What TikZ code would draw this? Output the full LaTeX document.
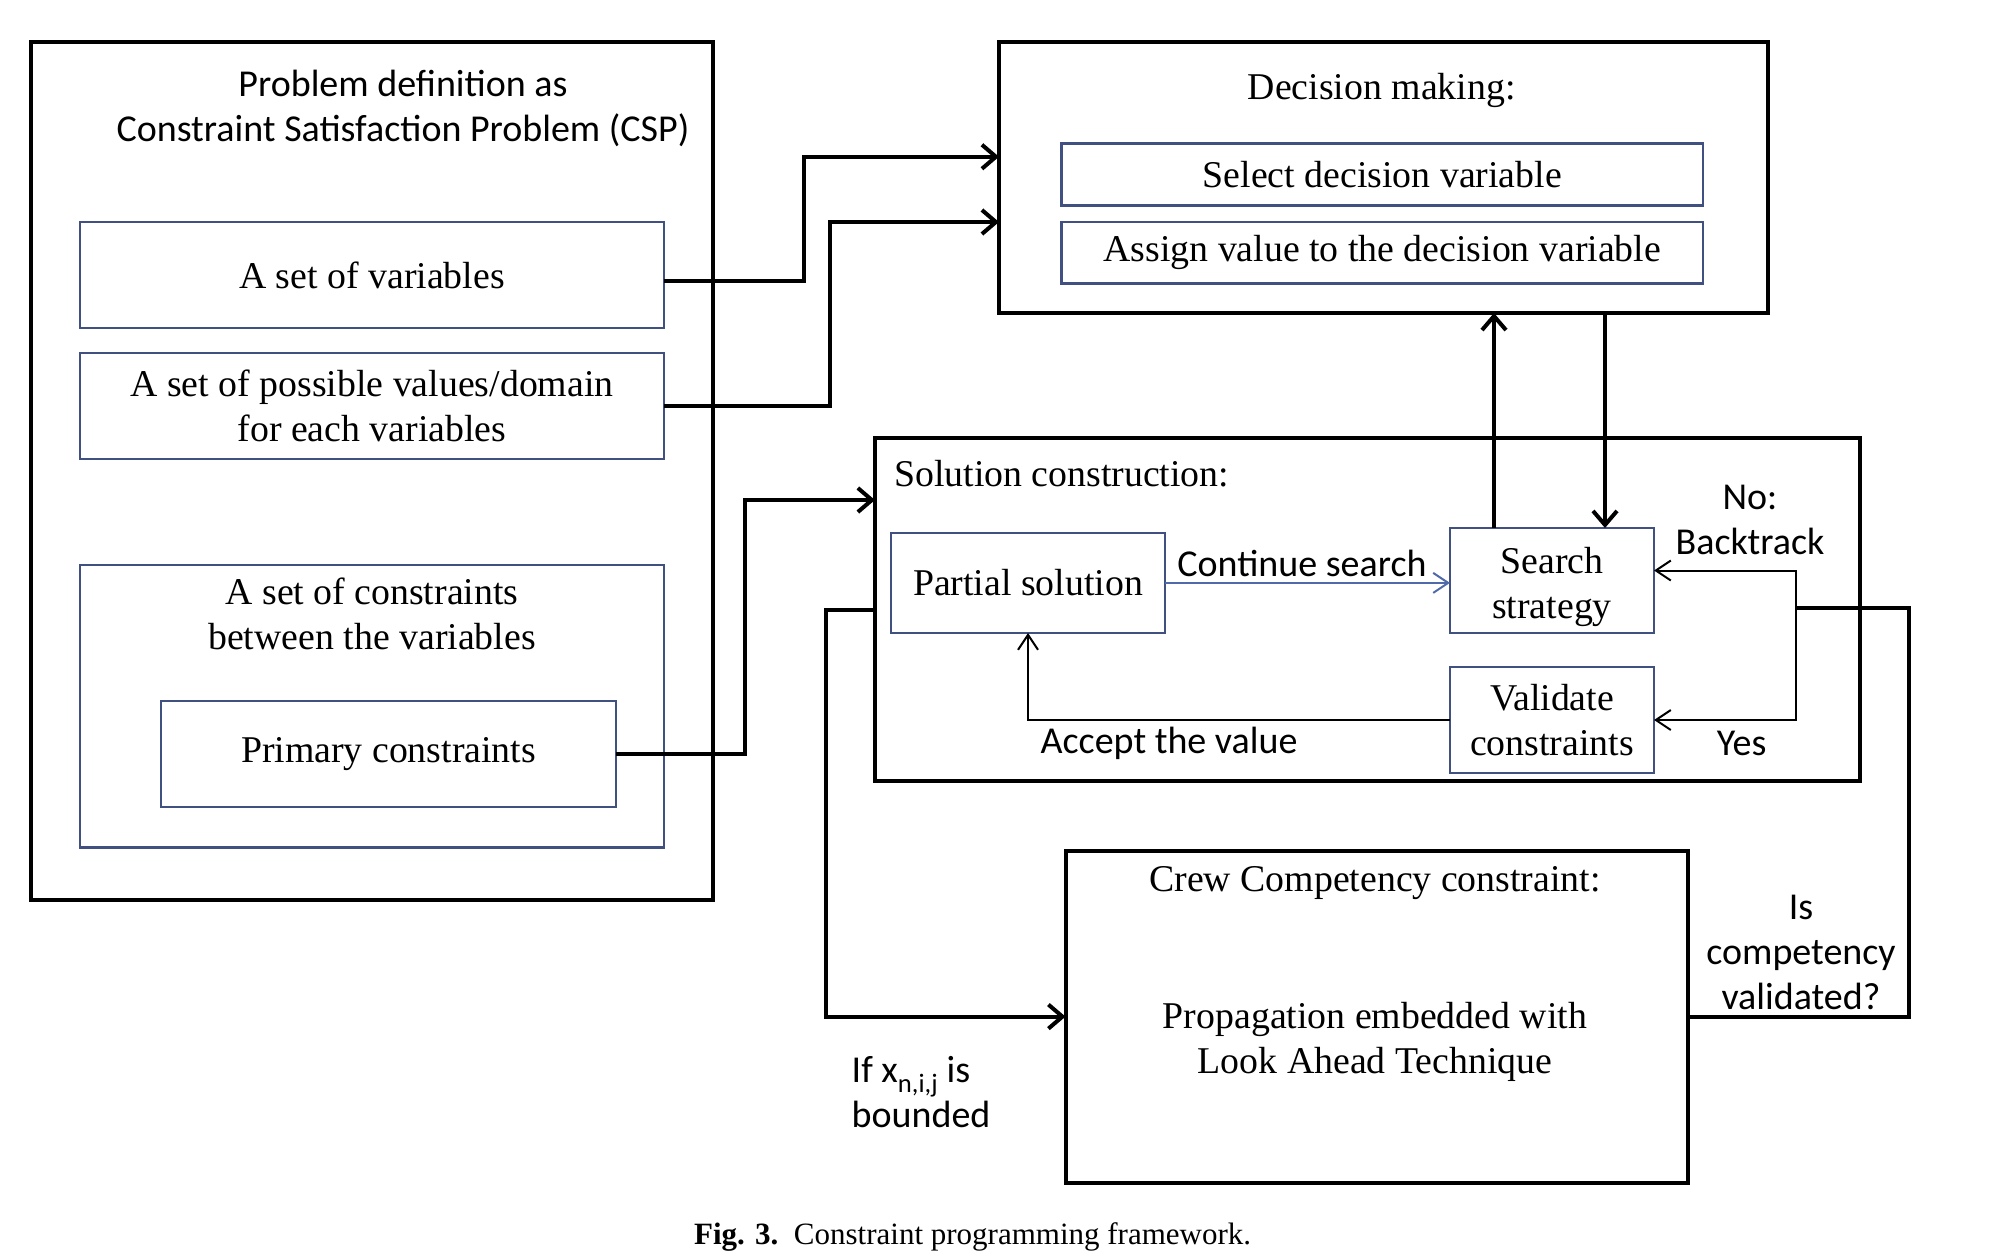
\documentclass[tikz,border=0pt]{standalone}
\usepackage{fontspec}
\setmainfont{Liberation Serif}
\newfontfamily\calib{Carlito}
\usetikzlibrary{arrows.meta}
\definecolor{boxblue}{RGB}{64,80,128}
\definecolor{arrblue}{RGB}{79,106,170}
\tikzset{
  thk/.style={line width=4pt,draw=black},
  thn/.style={line width=2pt,draw=black},
  bigbox/.style={rectangle,thk,inner sep=0pt,outer sep=0pt},
  subbox/.style={rectangle,draw=boxblue,line width=2.5pt,inner sep=0pt,outer sep=0pt,align=center,font=\serifsz},
  thkarr/.style={thk,-{Straight Barb[length=14pt,width=24pt,line width=4pt]}},
  thnarr/.style={thn,-{Straight Barb[length=15pt,width=20pt,line width=2pt]}},
  lbl/.style={inner sep=0pt,align=center},
}
\newcommand{\serifsz}{\fontsize{37.8}{45}\selectfont}
\newcommand{\sanssz}{\calib\fontsize{38}{45}\selectfont}
\begin{document}
\begin{tikzpicture}[x=1pt,y=-1pt]
\useasboundingbox (0,0) rectangle (2008,1260);
% left block
\node[bigbox,minimum width=682pt,minimum height=857.5pt] (outer) at (371.6,471.2) {};
\node[lbl,font=\sanssz] (ptitle) at (403,108) {Problem definition as\\Constraint Satisfaction Problem (CSP)};
\node[subbox,minimum width=584pt,minimum height=106pt] (var) at (372,275) {A set of variables};
\node[subbox,minimum width=584pt,minimum height=105.7pt] (poss) at (372,405.9) {A set of possible values/domain\\for each variables};
\node[subbox,minimum width=584pt,minimum height=282.6pt] (cons) at (372,706.1) {};
\node[lbl,font=\serifsz] (constxt) at (372,614) {A set of constraints\\between the variables};
\node[subbox,minimum width=455pt,minimum height=106.2pt] (prim) at (388.5,753.9) {Primary constraints};
% decision making
\node[bigbox,minimum width=768.8pt,minimum height=270.5pt] (dec) at (1383.4,177.75) {};
\node[lbl,font=\serifsz] (dectitle) at (1381.7,90) {Decision making:};
\node[subbox,minimum width=641.4pt,minimum height=62pt] (sel) at (1382.3,174.7) {Select decision variable};
\node[subbox,minimum width=641.4pt,minimum height=61.4pt] (asg) at (1382.3,252.7) {Assign value to the decision variable};
% solution construction
\node[bigbox,minimum width=985.3pt,minimum height=343.5pt] (sol) at (1367.6,609.7) {};
\node[lbl,font=\serifsz,anchor=west] (soltitle) at (894,474) {Solution construction:};
\node[subbox,minimum width=274pt,minimum height=100.2pt] (part) at (1028,582.9) {Partial solution};
\node[subbox,minimum width=204pt,minimum height=105pt] (srch) at (1552,580.5) {};
\node[lbl,font=\serifsz] (srchtxt) at (1552,586.5) {Search\\strategy};
\node[subbox,minimum width=204pt,minimum height=106pt] (val) at (1552,720) {Validate\\constraints};
% crew
\node[bigbox,minimum width=622.2pt,minimum height=332pt] (crew) at (1376.6,1016.6) {};
\node[lbl,font=\serifsz] (crewtitle) at (1375,883) {Crew Competency constraint:};
\node[lbl,font=\serifsz] (crewtxt) at (1375,1042) {Propagation embedded with\\Look Ahead Technique};
% labels
\node[lbl,font=\sanssz] (lcont) at (1302,563) {Continue search};
\node[lbl,font=\sanssz] (lno) at (1750,520) {No:\\Backtrack};
\node[lbl,font=\sanssz] (lyes) at (1741.7,743) {Yes};
\node[lbl,font=\sanssz] (lacc) at (1169,743) {Accept the value};
\node[lbl,font=\sanssz] (lcomp) at (1801,952) {Is\\competency\\validated?};
\node[lbl,font=\sanssz,anchor=north west,align=left] (lif) at (851.5,1056) {If x\textsubscript{n,i,j} is\\bounded};
\node[lbl,font=\fontsize{31}{36}\selectfont] (cap) at (972.6,1237) {\textbf{Fig. 3.}\ \ Constraint programming framework.};
% coordinates
\coordinate (split) at (1795.7,608);
\coordinate (loopc) at (1909,608);
% connectors
\draw[thkarr] ([yshift=-6pt]var.east) -- ++(139.5,0) |- ([yshift=21pt]dec.west);
\draw[thkarr] (poss.east) -- ++(166,0) |- ([yshift=-44.25pt]dec.west);
\draw[thkarr] (prim.east) -- ++(129,0) |- ([yshift=109.7pt]sol.west);
\draw[thkarr] ([xshift=-58pt]srch.north) -- ([xshift=-58pt]srch.north |- dec.south);
\draw[thkarr] ([xshift=53pt]srch.north |- dec.south) -- ([xshift=53pt]srch.north);
\draw[line width=2pt,draw=arrblue,-{Straight Barb[length=15pt,width=20pt,line width=2pt]}] (part.east) -- (part.east -| srch.west);
\draw[thnarr] (split) |- ([yshift=10pt]srch.east);
\draw[thnarr] (split) |- (val.east);
\draw[thnarr] (val.west) -| (part.south);
\draw[thk] (crew.east) -| (loopc) -- (split);
\draw[thkarr] (sol.west) -- ++(-49,0) |- (crew.west);
\end{tikzpicture}
\end{document}
